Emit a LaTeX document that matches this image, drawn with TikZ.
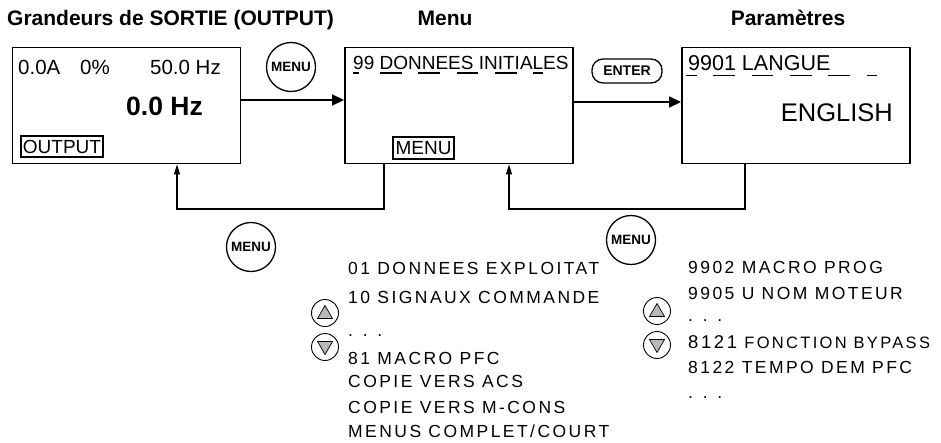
\documentclass[tikz,border=0pt]{standalone}
\usepackage{fontspec}
\setmainfont{Liberation Sans}
\newfontfamily\spaced[LetterSpace=14]{Liberation Sans}
\usetikzlibrary{arrows.meta,calc}
\begin{document}
\begin{tikzpicture}[x=1pt,y=-1pt,
  box/.style={draw, line width=1.9pt, minimum width=228pt, minimum height=116pt, inner sep=0},
  txt/.style={inner sep=0, font=\fontsize{20.5}{24}\selectfont},
  big/.style={inner sep=0, font=\fontsize{25.5}{30}\selectfont},
  bigb/.style={inner sep=0, font=\bfseries\fontsize{26.5}{30}\selectfont},
  frm/.style={draw, line width=1.5pt, inner sep=0, font=\fontsize{19}{22}\selectfont},
  ttl/.style={inner sep=0, anchor=base, font=\bfseries\fontsize{21}{24}\selectfont},
  btn/.style={draw, circle, line width=1.3pt, minimum size=49pt, inner sep=0, font=\bfseries\fontsize{13.5}{14}\selectfont},
  pill/.style={draw, rounded corners=11pt, line width=1.3pt, minimum width=70pt, minimum height=24pt, inner sep=0, font=\bfseries\fontsize{14}{14}\selectfont},
  lst/.style={inner sep=0, anchor=base west, font=\spaced\fontsize{17.5}{18}\selectfont},
  arr/.style={line width=1.5pt, -{Triangle[length=12pt,width=11pt]}},
  back/.style={line width=1.3pt, -{Triangle[length=10pt,width=6pt]}},
  updn/.style={draw, circle, line width=0.9pt, minimum size=27pt, inner sep=0},
  tri/.style={draw, fill=gray!55, line width=0.7pt},
  cur/.style={line width=1.5pt}
]
\useasboundingbox (0,0) rectangle (941,442);

% titles
\node[ttl, anchor=base west] (t1) at (7,25) {Grandeurs de SORTIE (OUTPUT)};
\node[ttl] (t2) at (445,25) {Menu};
\node[ttl] (t3) at (788,25) {Paramètres};

% boxes
\node[box] (b1) at (126.5,105.5) {};
\node[box] (b2) at (459,105.5) {};
\node[box] (b3) at (796,105.5) {};

% box 1 content
\node[txt, anchor=base west] (a1) at (18,74) {0.0A};
\node[txt, anchor=base west] (a2) at (80,74) {0\%};
\node[txt, anchor=base east] (a3) at (221,74) {50.0 Hz};
\node[bigb, anchor=base east] (a4) at (203,115) {0.0 Hz};
\node[frm, minimum width=82pt, minimum height=21pt] (a5) at (62,146.5) {OUTPUT};

% box 2 content
\node[txt, anchor=base west, font=\fontsize{19}{22}\selectfont] (m1) at (353,69) {99 DONNEES INITIALES};
\node[frm, minimum width=61pt, minimum height=22pt] (m2) at (423.5,148) {MENU};
\foreach \xa/\xb in {353/359, 380/402, 418/440, 457/478, 495/517, 533/543}
  \draw[cur] (\xa,73) -- (\xb,73);

% box 3 content
\node[txt, anchor=base west, font=\fontsize{21.5}{24}\selectfont] (p1) at (688,70) {9901 LANGUE};
\node[big, anchor=base east] (p2) at (893,121) {ENGLISH};
\foreach \xa/\xb in {686/697, 713/735, 752/773, 790/812, 828/850, 867/877}
  \draw[cur] (\xa,75.5) -- (\xb,75.5);

% buttons
\node[btn] (k1) at (291,67) {MENU};
\node[pill] (k2) at (627,71) {ENTER};
\node[btn] (k3) at (251,247) {MENU};
\node[btn] (k4) at (631,240) {MENU};

% forward arrows
\draw[arr] ([yshift=5.5pt]b1.east) -- ([yshift=5.5pt]b2.west);
\draw[arr] ([yshift=3.5pt]b2.east) -- ([yshift=3.5pt]b3.west);

% feedback arrows
\coordinate (c1) at (384,209);
\coordinate (c2) at (177,209);
\coordinate (c3) at (745,209);
\coordinate (c4) at (509,209);
\draw[back] (b2.south -| c1) -- (c1) -- (c2) -- (b1.south -| c2);
\draw[back] (b3.south -| c3) -- (c3) -- (c4) -- (b2.south -| c4);

% up / down keys
\node[updn] (u1) at (325,313) {};
\node[updn] (d1) at (325,347) {};
\node[updn] (u2) at (657,311) {};
\node[updn] (d2) at (657,345) {};
\foreach \n in {u1,u2}
  \draw[tri] ([shift={(-7.5,5.5)}]\n.center) -- ([shift={(7.5,5.5)}]\n.center) -- ([shift={(0,-7.5)}]\n.center) -- cycle;
\foreach \n in {d1,d2}
  \draw[tri] ([shift={(-7.5,-5.5)}]\n.center) -- ([shift={(7.5,-5.5)}]\n.center) -- ([shift={(0,7.5)}]\n.center) -- cycle;

% left list
\node[lst] (l1) at (348,274) {01 DONNEES EXPLOITAT};
\node[lst] (l2) at (348,303) {10 SIGNAUX COMMANDE};
\node[lst] (l3) at (348,336) {. . .};
\node[lst] (l4) at (348,364) {81 MACRO PFC};
\node[lst] (l5) at (348,387) {COPIE VERS ACS};
\node[lst] (l6) at (348,413) {COPIE VERS M-CONS};
\node[lst] (l7) at (348,437) {MENUS COMPLET/COURT};

% right list
\node[lst] (r1) at (688,273) {9902 MACRO PROG};
\node[lst] (r2) at (688,299) {9905 U NOM MOTEUR};
\node[lst] (r3) at (688,321) {. . .};
\node[lst] (r4) at (688,348) {{\fontsize{18.5}{20}\selectfont 8121} {\fontsize{16.5}{18}\selectfont FONCTION BYPASS}};
\node[lst] (r5) at (688,373) {8122 TEMPO DEM PFC};
\node[lst] (r6) at (688,398) {. . .};
\end{tikzpicture}
\end{document}
